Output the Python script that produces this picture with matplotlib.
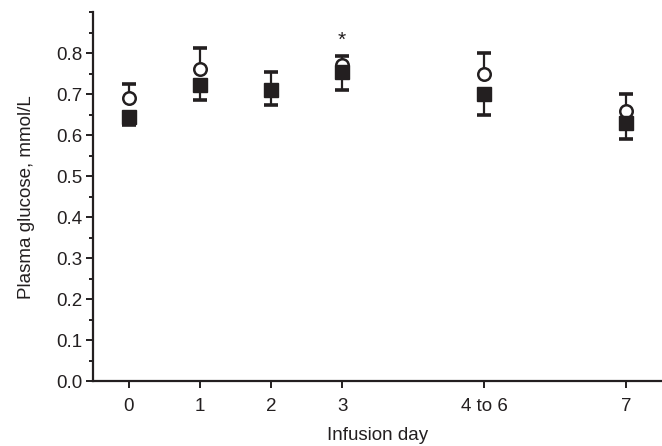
import matplotlib
matplotlib.use("Agg")
import matplotlib.pyplot as plt
from matplotlib.ticker import MultipleLocator

plt.rcParams["font.family"] = ["Liberation Sans", "DejaVu Sans"]

# data
days = ["0", "1", "2", "3", "4 to 6", "7"]
x_pos = [0, 1, 2, 3, 5, 7]
open_mean = [0.690, 0.760, 0.710, 0.772, 0.749, 0.658]
open_err = [0.035, 0.053, 0.043, 0.022, 0.051, 0.043]
filled_mean = [0.644, 0.723, 0.710, 0.753, 0.701, 0.630]
filled_err = [0.019, 0.037, 0.036, 0.043, 0.051, 0.040]
star_day = 3
star_y = 0.832

INK = "#231f20"

fig = plt.figure(figsize=(6.62, 4.46), dpi=100)
ax = fig.add_axes([0.141, 0.145, 0.859, 0.828])

# one-sided error bars: up for the open circles, down for the filled squares
open_top = [m + e for m, e in zip(open_mean, open_err)]
filled_bot = [m - e for m, e in zip(filled_mean, filled_err)]
ax.vlines(x_pos, open_mean, open_top, color=INK, lw=1.6, zorder=2)
ax.plot(x_pos, open_top, ls="none", marker="_", ms=10, mew=2.6, color=INK, zorder=2)
ax.vlines(x_pos, filled_bot, filled_mean, color=INK, lw=1.6, zorder=2)
ax.plot(x_pos, filled_bot, ls="none", marker="_", ms=10, mew=2.6, color=INK, zorder=2)

ax.plot(x_pos, open_mean, ls="none", marker="o", ms=9, mfc="white", mec=INK,
        mew=1.8, zorder=3)
ax.plot(x_pos, filled_mean, ls="none", marker="s", ms=9.5, mfc=INK, mec=INK,
        zorder=4)

ax.text(star_day, star_y, "*", ha="center", va="center", fontsize=15, color=INK)

ax.set_xlim(-0.5, 7.5)
ax.set_ylim(0, 0.9)
ax.set_xticks(x_pos)
ax.set_xticklabels(days)
ax.yaxis.set_minor_locator(MultipleLocator(0.05))
ax.set_yticks([i / 10 for i in range(9)])
ax.set_yticklabels([f"{i / 10:.1f}" for i in range(9)])

for s in ["top", "right"]:
    ax.spines[s].set_visible(False)
for s in ["left", "bottom"]:
    ax.spines[s].set_linewidth(1.6)
    ax.spines[s].set_color(INK)

ax.tick_params(axis="both", which="major", length=5, width=1.4, color=INK,
               labelsize=13.5, labelcolor=INK)
ax.tick_params(axis="y", which="minor", length=3, width=1.4, color=INK)
ax.tick_params(axis="x", pad=7)
ax.tick_params(axis="y", pad=3)

ax.set_xlabel("Infusion day", fontsize=13.5, color=INK, labelpad=9)
ax.set_ylabel("Plasma glucose, mmol/L", fontsize=13.5, color=INK, labelpad=15)

fig.savefig("out.png", dpi=100)
